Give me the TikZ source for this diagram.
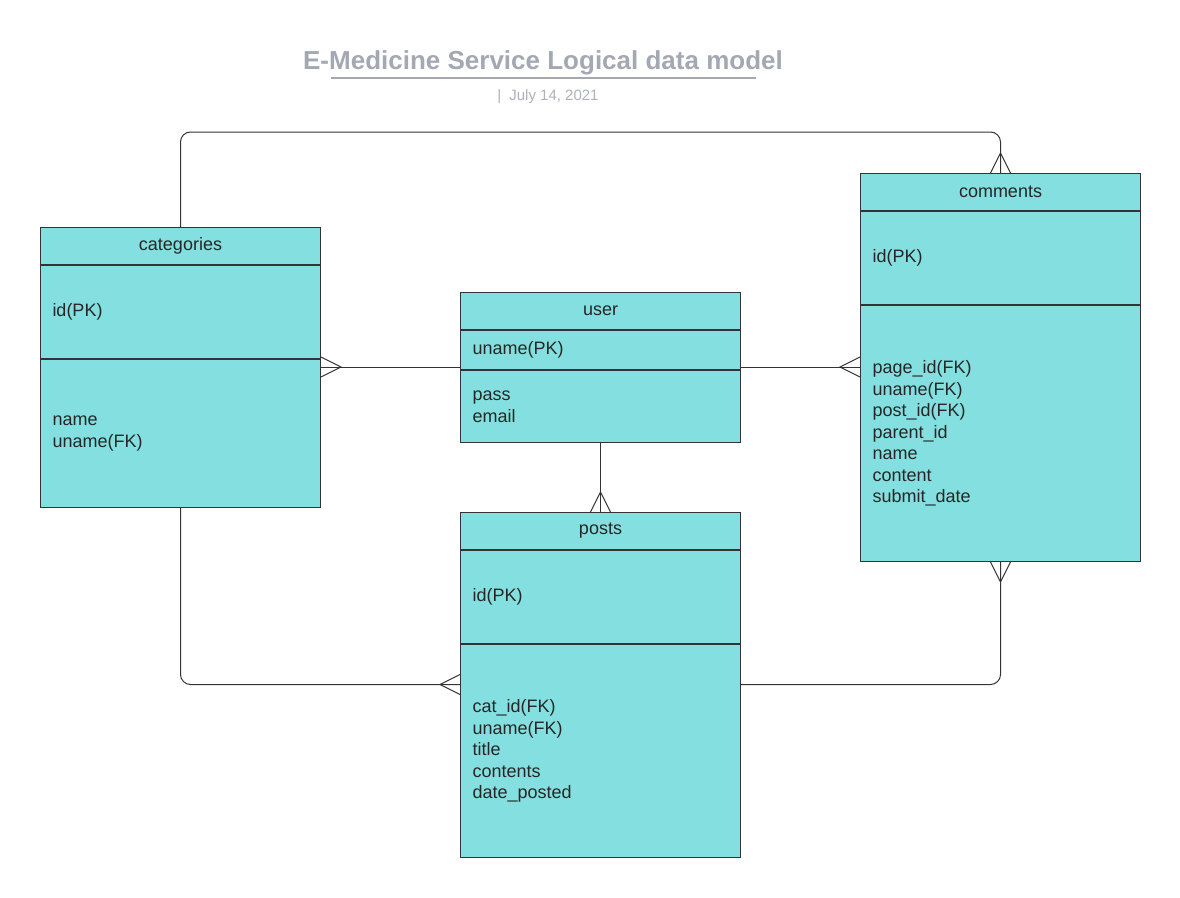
\documentclass[tikz,border=0pt]{standalone}
\usepackage{fontspec}
\setmainfont{Liberation Sans}
\usetikzlibrary{positioning}
\definecolor{tablefill}{RGB}{132,224,224}
\definecolor{titlegray}{RGB}{163,168,178}
\definecolor{linegray}{RGB}{51,51,51}
\begin{document}
\begin{tikzpicture}[x=1pt, y=-1pt,
    head/.style={draw=linegray, fill=tablefill, line width=1pt,
                 minimum width=280pt, minimum height=37pt, inner sep=0pt,
                 font=\fontsize{18}{21.5}\selectfont, text=black!85},
    part/.style={draw=linegray, fill=tablefill, line width=1pt,
                 text width=256pt, inner xsep=12pt, inner ysep=0pt, align=left,
                 font=\fontsize{18}{21.5}\selectfont, text=black!85},
    conn/.style={draw=linegray, line width=1pt, rounded corners=10pt},
    crowfoot/.pic={\draw[linegray, line width=1pt] (0,-10) -- (20,0) -- (0,10);}]
	\useasboundingbox (0,0) rectangle (1180,897);

	% title
	\node[font=\fontsize{26}{30}\selectfont\bfseries, text=titlegray] (title) at (543,63) {E-Medicine Service Logical data model};
	\draw[titlegray, line width=1.5pt] (331,78) -- (756,78);
	\node[font=\fontsize{15}{18}\selectfont, text=titlegray!90] (date) at (548,97) {|\hspace{8pt}July 14, 2021};

	% categories
	\node[head, anchor=north west] (cath) at (40,227) {categories};
	\node[part, minimum height=93pt, below=0pt of cath] (catk) {id(PK)};
	\node[part, minimum height=148pt, below=0pt of catk] (catb) {name\\uname(FK)};

	% user
	\node[head, anchor=north west] (userh) at (460,292) {user};
	\node[part, minimum height=39pt, below=0pt of userh] (userk) {uname(PK)};
	\node[part, minimum height=72pt, below=0pt of userk] (userb) {pass\\email};

	% comments
	\node[head, anchor=north west] (comh) at (860,173) {comments};
	\node[part, minimum height=93pt, below=0pt of comh] (comk) {id(PK)};
	\node[part, minimum height=256pt, below=0pt of comk] (comb) {page\_id(FK)\\uname(FK)\\post\_id(FK)\\parent\_id\\name\\content\\submit\_date};

	% posts
	\node[head, anchor=north west] (posth) at (460,512) {posts};
	\node[part, minimum height=93pt, below=0pt of posth] (postk) {id(PK)};
	\node[part, minimum height=213pt, below=0pt of postk] (postb) {cat\_id(FK)\\uname(FK)\\title\\contents\\date\_posted};

	% relations
	\draw[conn] (cath.north) -- ++(0,-95) -| (comh.north);
	\draw[conn] (catb.south) |- ([yshift=66.5pt]postb.west);
	\draw[conn] ([yshift=66.5pt]postb.east) -| (comb.south);
	\draw[conn] ([yshift=3pt]userk.south west) -- ([yshift=3pt]userk.south west -| catb.east);
	\draw[conn] ([yshift=3pt]userk.south east) -- ([yshift=3pt]userk.south east -| comb.west);
	\draw[conn] (userb.south) -- (posth.north);

	\pic at ([yshift=3pt]userk.south west -| catb.east) {crowfoot};
	\pic[rotate=180] at ([yshift=3pt]userk.south east -| comb.west) {crowfoot};
	\pic[rotate=180] at ([yshift=66.5pt]postb.west) {crowfoot};
	\pic[rotate=90] at (comh.north) {crowfoot};
	\pic[rotate=90] at (posth.north) {crowfoot};
	\pic[rotate=-90] at (comb.south) {crowfoot};

\end{tikzpicture}
\end{document}
